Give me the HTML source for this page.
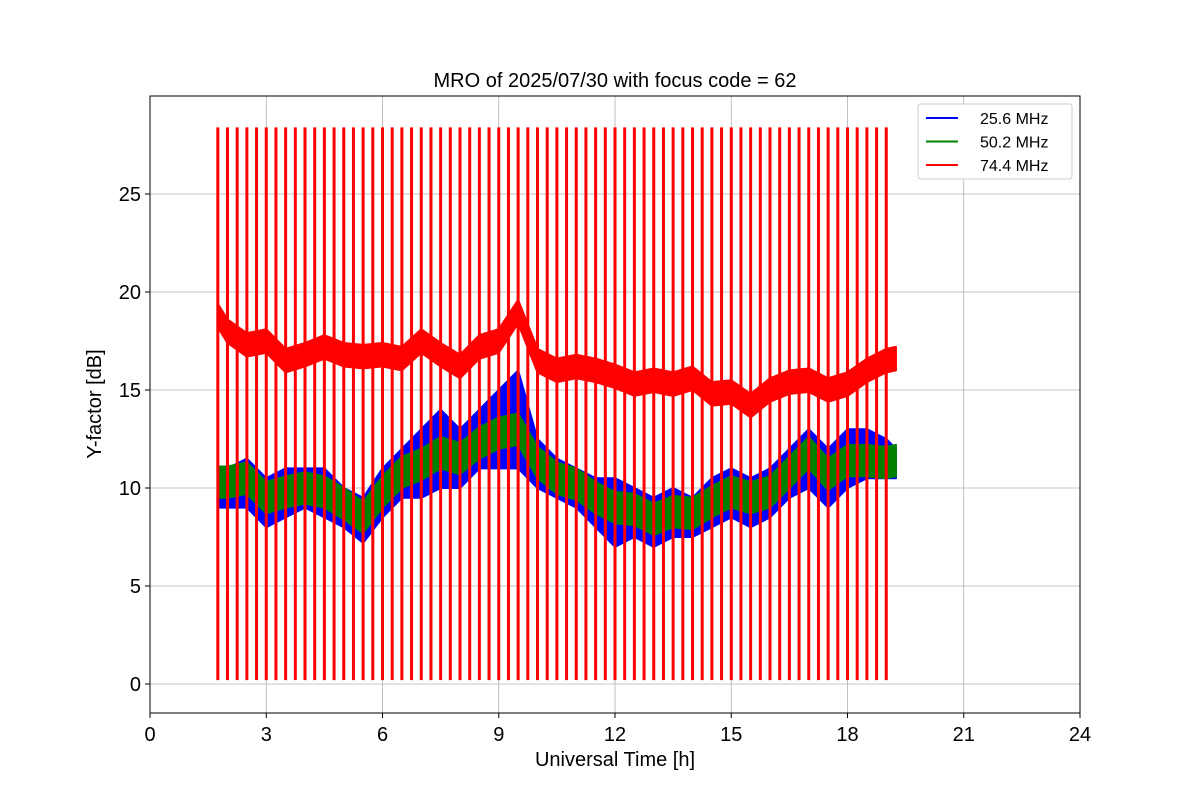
<!DOCTYPE html>
<html><head><meta charset="utf-8"><style>
body{margin:0;background:#fff;font-family:"Liberation Sans","DejaVu Sans",sans-serif}
svg text{font-family:"Liberation Sans","DejaVu Sans",sans-serif}
</style></head><body>
<svg id="c" width="1200" height="800" xmlns="http://www.w3.org/2000/svg"></svg>
<script>
const xTicks=[0,3,6,9,12,15,18,21,24];
const yTicks=[0,5,10,15,20,25];
const bandTimes=[1.75,2,2.5,3,3.5,4,4.5,5,5.5,6,6.5,7,7.5,8,8.5,9,9.5,10,10.5,11,11.5,12,12.5,13,13.5,14,14.5,15,15.5,16,16.5,17,17.5,18,18.5,19,19.25];
const blueLow=[9,9,9,8,8.5,9,8.5,8,7.2,8.5,9.5,9.5,10,10,11,11,11,10,9.5,9,8,7,7.5,7,7.5,7.5,8,8.5,8,8.5,9.5,10,9,10,10.5,10.5,10.5];
const blueHigh=[11,11,11.5,10.5,11,11,11,10,9.5,11,12,13,14,13,14,15,16,12.5,11.5,11,10.5,10.5,10,9.5,10,9.5,10.5,11,10.5,11,12,13,12,13,13,12.5,12];
const greenMid=[10.3,10.3,10.5,9.5,9.8,10,9.8,9.2,8.5,9.8,10.8,11.2,11.8,11.5,12.3,12.8,13,11.3,10.5,10.2,9.5,9,8.9,8.4,8.8,8.7,9.3,9.8,9.5,9.8,10.8,11.8,10.7,11.4,11.4,11.3,11.4];
const redMid=[18.8,18,17.3,17.5,16.5,16.8,17.2,16.8,16.7,16.8,16.6,17.5,16.8,16.2,17.2,17.5,19,16.5,16,16.2,16,15.7,15.3,15.5,15.3,15.6,14.8,14.9,14.2,15,15.4,15.5,15,15.3,16,16.5,16.6];
const spikeTimes=[1.75,2,2.25,2.5,2.75,3,3.25,3.5,3.75,4,4.25,4.5,4.75,5,5.25,5.5,5.75,6,6.25,6.5,6.75,7,7.25,7.5,7.75,8,8.25,8.5,8.75,9,9.25,9.5,9.75,10,10.25,10.5,10.75,11,11.25,11.5,11.75,12,12.25,12.5,12.75,13,13.25,13.5,13.75,14,14.25,14.5,14.75,15,15.25,15.5,15.75,16,16.25,16.5,16.75,17,17.25,17.5,17.75,18,18.25,18.5,18.75,19];
const spikeTop=28.4, spikeBottom=0.2;

const NS="http://www.w3.org/2000/svg",svg=document.getElementById('c');
const L=150,R=1080,T=96,B=713;
const X=v=>L+(v/24)*(R-L);
const Y=v=>684-v*19.6;
function mk(t,a,p){const e=document.createElementNS(NS,t);for(const k in a)e.setAttribute(k,a[k]);(p||svg).appendChild(e);return e;}
const grid=mk('g',{});


xTicks.forEach(t=>{
 mk('line',{x1:X(t),x2:X(t),y1:T,y2:B,stroke:'#b0b0b0','stroke-width':0.8},grid);
 mk('line',{x1:X(t),x2:X(t),y1:B,y2:B+5,stroke:'#000'});
 const tx=mk('text',{x:X(t),y:B+28,'text-anchor':'middle','font-size':20});tx.textContent=t;
 
 
});
yTicks.forEach(t=>{
 mk('line',{x1:L,x2:R,y1:Y(t),y2:Y(t),stroke:'#b0b0b0','stroke-width':0.8},grid);
 mk('line',{x1:L-5,x2:L,y1:Y(t),y2:Y(t),stroke:'#000'});
 const tx=mk('text',{x:L-9,y:Y(t)+7,'text-anchor':'end','font-size':20});tx.textContent=t;
 
 
});
function band(lo,hi,color,name){
 let d='M'+bandTimes.map((t,i)=>X(t)+','+Y(hi[i])).join('L');
 for(let i=bandTimes.length-1;i>=0;i--)d+='L'+X(bandTimes[i])+','+Y(lo[i]);
 const p=mk('path',{d:d+'Z',fill:color,stroke:color,'stroke-width':2,'stroke-linejoin':'round'});
 
 
}
band(blueLow,blueHigh,'#0000ff','series-25-6mhz');
band(greenMid.map(v=>v-0.8),greenMid.map(v=>v+0.8),'#008000','series-50-2mhz');
band(redMid.map(v=>v-0.6),redMid.map(v=>v+0.6),'#ff0000','series-74-4mhz-band');
spikeTimes.forEach(t=>{
 const s=mk('line',{x1:X(t),x2:X(t),y1:Y(spikeTop),y2:Y(spikeBottom),stroke:'#ff0000','stroke-width':3});
 
 
});
mk('rect',{x:L,y:T,width:R-L,height:B-T,fill:'none',stroke:'#000','stroke-width':1});
const ti=mk('text',{x:615,y:87,'text-anchor':'middle','font-size':20});ti.textContent='MRO of 2025/07/30 with focus code = 62';


const xl=mk('text',{x:615,y:766,'text-anchor':'middle','font-size':20});xl.textContent='Universal Time [h]';


const yl=mk('text',{x:101,y:404,'text-anchor':'middle','font-size':20,transform:'rotate(-90 101 404)'});yl.textContent='Y-factor [dB]';


const lg=mk('g',{});


mk('rect',{x:918,y:104,width:154,height:75,rx:3,fill:'#fff',stroke:'#ccc'},lg);
[['25.6 MHz','#0000ff'],['50.2 MHz','#008000'],['74.4 MHz','#ff0000']].forEach((e,i)=>{
 const y=118+i*23.5;
 mk('line',{x1:926,x2:958,y1:y,y2:y,stroke:e[1],'stroke-width':2},lg);
 const t=mk('text',{x:980,y:y+6,'font-size':16},lg);t.textContent=e[0];
 
 
});
</script>
</body></html>
